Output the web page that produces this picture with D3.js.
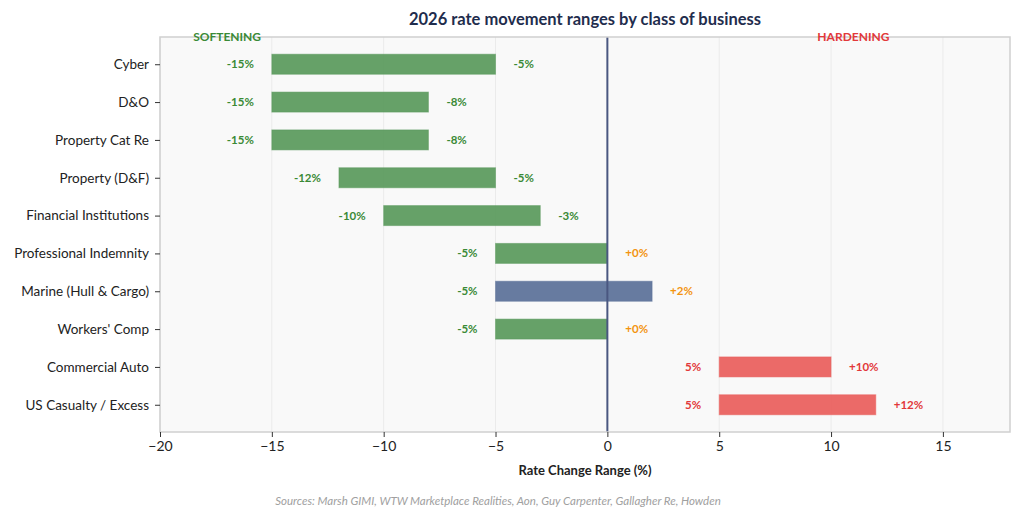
<!DOCTYPE html>
<html>
<head>
<meta charset="utf-8">
<script src="https://cdn.jsdelivr.net/npm/d3@7"></script>
<style>
  body { margin: 0; background: #fff; }
  svg { font-family: Lato, "Liberation Sans", sans-serif; }
</style>
</head>
<body>
<svg id="chart" width="1024" height="521"></svg>
<script>
// data
var classes = ["Cyber", "D&O", "Property Cat Re", "Property (D&F)", "Financial Institutions",
  "Professional Indemnity", "Marine (Hull & Cargo)", "Workers' Comp", "Commercial Auto", "US Casualty / Excess"];
var lowVals = [-15, -15, -15, -12, -10, -5, -5, -5, 5, 5];
var highVals = [-5, -8, -8, -5, -3, 0, 2, 0, 10, 12];
var lowLabels = ["-15%", "-15%", "-15%", "-12%", "-10%", "-5%", "-5%", "-5%", "5%", "5%"];
var highLabels = ["-5%", "-8%", "-8%", "-5%", "-3%", "+0%", "+2%", "+0%", "+10%", "+12%"];
var xTicks = [-20, -15, -10, -5, 0, 5, 10, 15];

var rows = classes.map((c, i) => ({ name: c, lo: lowVals[i], hi: highVals[i], loLab: lowLabels[i], hiLab: highLabels[i] }))

var m = { left: 160, right: 1010, top: 37, bottom: 432 }
var svg = d3.select("#chart")

var x = d3.scaleLinear().domain([-20, 18]).range([m.left, m.right])
var y = d3.scalePoint().domain(classes).range([m.top, m.bottom]).padding(0.72)

function barColor(d) {
  if (d.lo < 0 && d.hi > 0) return "#5b7199"
  return d.hi <= 0 ? "#5a9a5c" : "#ea5f5c"
}
function labColor(v) {
  if (v < 0) return "#3a8a36"
  if (v < 5) return "#f39410"
  return "#e2383a"
}

// plot background
svg.append("rect")
  .attr("x", m.left).attr("y", m.top)
  .attr("width", m.right - m.left).attr("height", m.bottom - m.top)
  .style("fill", "#f9f9f9")

// faint vertical grid
svg.append("g").selectAll("line")
  .data(xTicks.filter(t => t != 0))
  .join("line")
  .attr("x1", d => x(d)).attr("x2", d => x(d))
  .attr("y1", m.top).attr("y2", m.bottom)
  .style("stroke", "#ebebeb").style("stroke-width", 1)

// bars
svg.append("g").selectAll("rect")
  .data(rows)
  .join("rect")
  .attr("x", d => x(d.lo))
  .attr("y", d => y(d.name) - 10)
  .attr("width", d => x(d.hi) - x(d.lo))
  .attr("height", 20)
  .style("fill", d => barColor(d))
  .style("fill-opacity", 0.93)
  .style("stroke", d => barColor(d))
  .style("stroke-opacity", 0.5)

// zero line
svg.append("line")
  .attr("x1", x(0)).attr("x2", x(0))
  .attr("y1", m.top).attr("y2", m.bottom)
  .style("stroke", "#4a5780").style("stroke-width", 2)

// end labels
svg.append("g").selectAll("text")
  .data(rows)
  .join("text")
  .attr("x", d => x(d.lo) - 18)
  .attr("y", d => y(d.name))
  .attr("dy", "0.35em")
  .attr("text-anchor", "end")
  .style("font-size", "11.5px").style("font-weight", "bold")
  .style("fill", d => labColor(d.lo))
  .text(d => d.loLab)

svg.append("g").selectAll("text")
  .data(rows)
  .join("text")
  .attr("x", d => x(d.hi) + 18)
  .attr("y", d => y(d.name))
  .attr("dy", "0.35em")
  .attr("text-anchor", "start")
  .style("font-size", "11.5px").style("font-weight", "bold")
  .style("fill", d => labColor(d.hi))
  .text(d => d.hiLab)

// frame
svg.append("rect")
  .attr("x", m.left).attr("y", m.top)
  .attr("width", m.right - m.left).attr("height", m.bottom - m.top)
  .style("fill", "none").style("stroke", "#cfcfcf").style("stroke-width", 1.5)

// axes
var xAxis = svg.append("g")
  .attr("transform", `translate(0,${m.bottom})`)
  .call(d3.axisBottom(x).tickValues(xTicks).tickSize(5).tickPadding(4).tickFormat(d => d < 0 ? "\u2212" + Math.abs(d) : d))
xAxis.attr("font-family", null)
xAxis.select(".domain").remove()
xAxis.selectAll("line").style("stroke", "#333")
xAxis.selectAll("text").style("font-size", "14px").style("fill", "#222")

var yAxis = svg.append("g")
  .attr("transform", `translate(${m.left},0)`)
  .call(d3.axisLeft(y).tickSize(5).tickPadding(6))
yAxis.attr("font-family", null)
yAxis.select(".domain").remove()
yAxis.selectAll("line").style("stroke", "#333")
yAxis.selectAll("text").style("font-size", "13.5px").style("fill", "#222")

// titles
svg.append("text")
  .attr("x", (m.left + m.right) / 2).attr("y", 25)
  .attr("text-anchor", "middle")
  .style("font-size", "16.5px").style("font-weight", "bold").style("fill", "#1f2d4d")
  .text("2026 rate movement ranges by class of business")

svg.append("text")
  .attr("x", x(-17)).attr("y", m.top + 4)
  .attr("text-anchor", "middle")
  .style("font-size", "12px").style("font-weight", "bold").style("fill", "#3a8a36")
  .text("SOFTENING")

svg.append("text")
  .attr("x", x(11)).attr("y", m.top + 4)
  .attr("text-anchor", "middle")
  .style("font-size", "12px").style("font-weight", "bold").style("fill", "#e2383a")
  .text("HARDENING")

svg.append("text")
  .attr("x", (m.left + m.right) / 2).attr("y", 475)
  .attr("text-anchor", "middle")
  .style("font-size", "13px").style("font-weight", "bold").style("fill", "#222")
  .text("Rate Change Range (%)")

svg.append("text")
  .attr("x", 498).attr("y", 505)
  .attr("text-anchor", "middle")
  .style("font-size", "11.5px").style("font-style", "italic").style("fill", "#a0a0a0")
  .text("Sources: Marsh GIMI, WTW Marketplace Realities, Aon, Guy Carpenter, Gallagher Re, Howden")
</script>
</body>
</html>
